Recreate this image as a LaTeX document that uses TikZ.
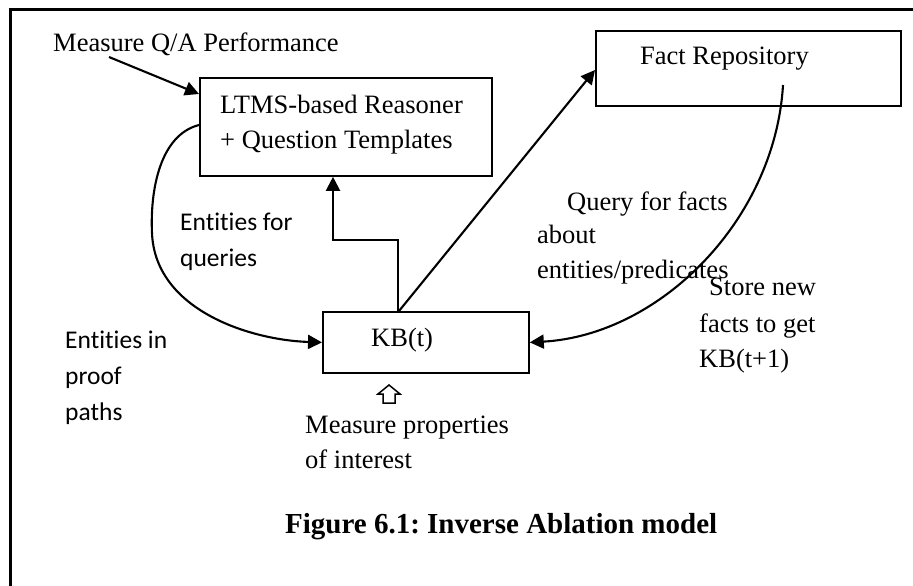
\documentclass[tikz,border=0pt]{standalone}
\usepackage{fontspec}
\setmainfont{Liberation Serif}
\newfontfamily\calibrifont[Ligatures={NoCommon,NoRare,NoContextual}]{Carlito}
\usetikzlibrary{arrows.meta,calc}
\begin{document}
\frenchspacing
\begin{tikzpicture}[x=1pt,y=-1pt,
  box/.style={draw,line width=1.8pt,inner sep=0pt,anchor=north west},
  conn/.style={line width=2.1pt,-{Triangle[length=14pt,width=14pt]}},
  lbl/.style={font=\fontsize{26.5}{32}\selectfont,anchor=base west,inner sep=0pt},
  sans/.style={font=\calibrifont\fontsize{25.5}{32}\selectfont,anchor=base west,inner sep=0pt},
  capt/.style={font=\bfseries\fontsize{29}{34}\selectfont,anchor=base west,inner sep=0pt}]

\useasboundingbox (0,0) rectangle (913,586);

% frame
\draw[line width=2.2pt] (10.5,586) -- (10.5,9.5) -- (913,9.5);

% boxes
\node[box,minimum width=292pt,minimum height=98pt] (ltms) at (199,77) {};
\node[box,minimum width=305pt,minimum height=75pt] (fact) at (595,30) {};
\node[box,minimum width=206pt,minimum height=61pt] (kb) at (322,311) {};

% texts
\node[lbl] (measure) at (53,52) {Measure Q/A Performance};
\node[lbl] (ltmsA) at (220,113) {LTMS-based Reasoner};
\node[lbl] (ltmsB) at (220,148) {+ Question Templates};
\node[lbl] (factT) at (640,65) {Fact Repository};
\node[lbl] (kbT) at (371,346) {KB(t)};
\node[lbl] (qA) at (567,210) {Query for facts};
\node[lbl] (qB) at (537,243) {about};
\node[lbl] (qC) at (537,278) {entities/predicates};
\node[lbl] (sA) at (709,295) {Store new};
\node[lbl] (sB) at (699,332) {facts to get};
\node[lbl] (sC) at (699,367) {KB(t+1)};
\node[sans] (eA) at (180,230) {Entities for};
\node[sans] (eB) at (180,266) {queries};
\node[sans] (pA) at (65,348) {Entities in};
\node[sans] (pB) at (65,384) {proof};
\node[sans] (pC) at (65,420) {paths};
\node[lbl] (mA) at (305,433) {Measure properties};
\node[lbl] (mB) at (305,468) {of interest};
\node[capt] (cap) at (285,533) {Figure 6.1: Inverse Ablation model};

% connectors
\coordinate (mstart) at (109,57);
\draw[conn] (mstart) -- ($(ltms.north west)+(0,17)$);

\draw[conn] ($(kb.north west)+(76,0)$) |- ($(ltms.south west)+(134,63)$)
   -- ($(ltms.south west)+(134,0)$);

\draw[conn] ($(kb.north west)+(77,0)$) -- ($(fact.north west)+(0,40)$);

\draw[conn] ($(fact.north west)+(188,55)$) .. controls (775,220) and (660,335) .. (kb.east);

\draw[conn] ($(ltms.north west)+(0,48)$) .. controls (160,135) and (150,190) .. (152,233)
   .. controls (155,310) and (250,340) .. (kb.west);

% hollow up arrow
\draw[line width=1.5pt,line join=miter] (383,403) -- (383,394) -- (378,394) -- (389,385)
   -- (400,394) -- (395,394) -- (395,403) -- cycle;
\end{tikzpicture}
\end{document}
